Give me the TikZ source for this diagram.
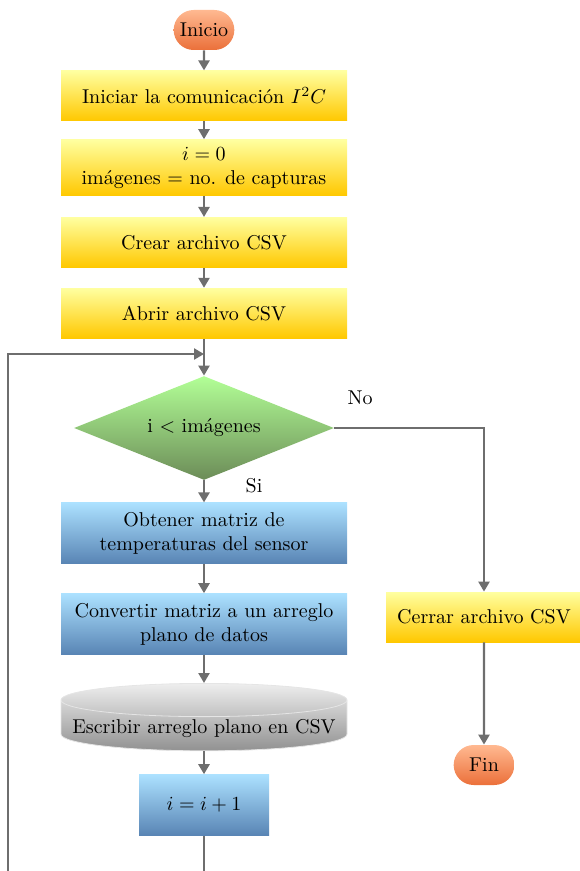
\documentclass[tikz,border=0pt]{standalone}
\usepackage{amsmath}
\usepackage{tikz}
\usetikzlibrary{arrows.meta,positioning,shapes.geometric,shapes.misc}
\definecolor{termtop}{RGB}{255,185,145}
\definecolor{termbot}{RGB}{235,112,58}
\definecolor{proctop}{RGB}{255,255,160}
\definecolor{procmid}{RGB}{255,240,60}
\definecolor{procbot}{RGB}{255,200,0}
\definecolor{calctop}{RGB}{172,225,255}
\definecolor{calcmid}{RGB}{122,165,255}
\definecolor{calcbot}{RGB}{88,132,180}
\definecolor{dectop}{RGB}{178,255,150}
\definecolor{decbot}{RGB}{108,140,88}
\definecolor{storetop}{RGB}{238,238,238}
\definecolor{storebot}{RGB}{145,145,145}
\definecolor{linegray}{RGB}{110,110,110}
\tikzset{
  fc/term/.style={rounded rectangle, top color=termtop, bottom color=termbot, minimum width=37pt, minimum height=20pt, align=center},
  fc/proc/.style={rectangle, top color=proctop, middle color=procmid, bottom color=procbot, minimum width=143pt, minimum height=25pt, align=center},
  fc/calc/.style={rectangle, top color=calctop, middle color=calcmid, bottom color=calcbot, minimum width=143pt, minimum height=30.5pt, align=center},
  fc/dec/.style={diamond, top color=dectop, bottom color=decbot, aspect=2.5, inner sep=0pt, minimum width=130pt, minimum height=52pt, align=center},
  fc/store/.style={cylinder, shape border rotate=90, aspect=0.12, inner ysep=1pt, top color=storetop, bottom color=storebot, draw=white!80!gray, thin, minimum width=143pt, minimum height=30pt, align=center},
  fc/line/.style={draw=linegray, line width=1.2pt},
  fc/arrow/.style={fc/line, -{Triangle[length=5pt,width=5.5pt]}},
  fc/label/.style={font=\normalsize, inner sep=1pt}
}

\begin{document}
\begin{tikzpicture}[x=0.5pt, y=-0.5pt]
  \useasboundingbox (0,0) rectangle (579,871);
  % main column
  \node[fc/term] (ini) at (204,30) {Inicio};
  \node[fc/proc, below=10pt of ini] (comm) {Iniciar la comunicación $I^2C$};
  \node[fc/proc, below=9pt of comm, minimum height=28pt] (init) {$i=0$\\imágenes $=$ no. de capturas};
  \node[fc/proc, below=10.5pt of init] (crear) {Crear archivo CSV};
  \node[fc/proc, below=10pt of crear] (abrir) {Abrir archivo CSV};
  \node[fc/dec, below=18.5pt of abrir] (cond) {i $<$ imágenes};
  \node[fc/calc, below=11pt of cond] (obt) {Obtener matriz de\\temperaturas del sensor};
  \node[fc/calc, below=14.5pt of obt] (conv) {Convertir matriz a un arreglo\\plano de datos};
  \node[fc/store, below=14pt of conv] (esc) {Escribir arreglo plano en CSV};
  \node[fc/calc, below=11.5pt of esc, minimum width=65pt] (inc) {$i=i+1$};

  % exit branch
  \node[fc/proc, minimum width=98pt] (cerrar) at (484,617) {Cerrar archivo CSV};
  \node[fc/term] (fin) at (484,765) {Fin};

  \node[fc/label] (lblno) at (360,398) {No};
  \node[fc/label] (lblsi) at (254,486) {Si};

  \coordinate (join) at (204,354);
  \coordinate (loopbot) at (204,880);
  \coordinate (loopleft) at (8,880);

  \draw[fc/arrow] (ini) -- (comm);
  \draw[fc/arrow] (comm) -- (init);
  \draw[fc/arrow] (init) -- (crear);
  \draw[fc/arrow] (crear) -- (abrir);
  \draw[fc/arrow] (abrir) -- (cond);
  \draw[fc/arrow] (cond) -- (obt);
  \draw[fc/arrow] (obt) -- (conv);
  \draw[fc/arrow] (conv) -- (esc);
  \draw[fc/arrow] (esc) -- (inc);
  \draw[fc/line] (inc) -- (loopbot);
  \draw[fc/arrow] (loopleft) |- (join);
  \draw[fc/arrow] (cond.east) -| (cerrar.north);
  \draw[fc/arrow] (cerrar) -- (fin);
\end{tikzpicture}
\end{document}
